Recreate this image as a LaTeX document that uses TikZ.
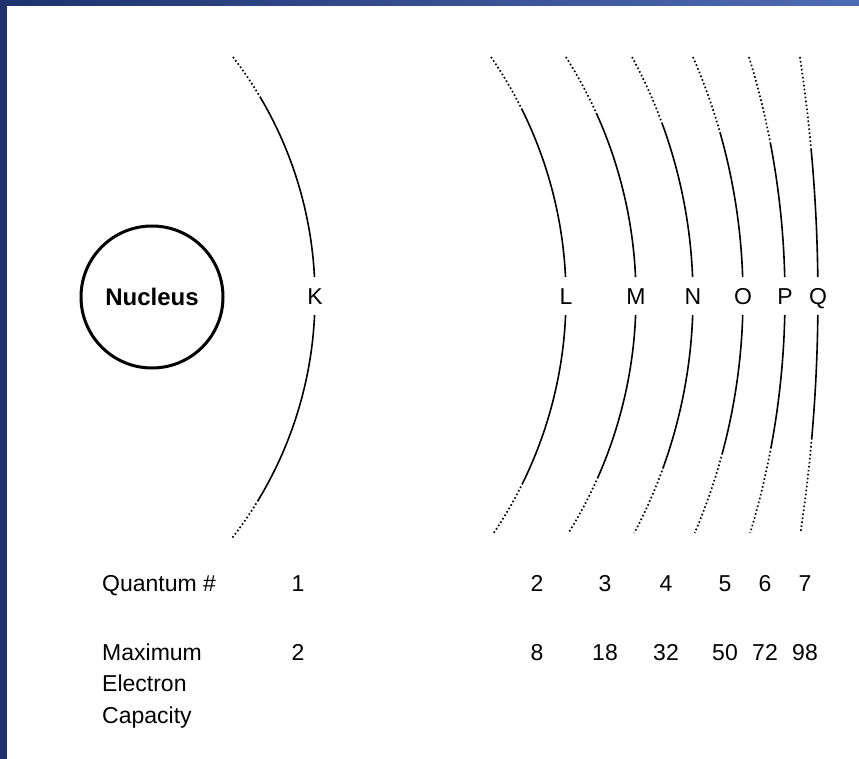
\documentclass[tikz,border=0pt]{standalone}
\usepackage{fontspec}
\setmainfont{Liberation Sans}
\definecolor{frameA}{RGB}{30,50,110}
\definecolor{frameB}{RGB}{78,108,180}

\begin{document}
\begin{tikzpicture}[x=1pt, y=-1pt,
  orbit/.style={line width=1.6pt},
  orbitdots/.style={line width=1.7pt, dash pattern=on 1.6pt off 2.4pt},
  txt/.style={inner sep=0pt, font=\fontsize{23}{31.5}\selectfont}]
  \useasboundingbox (0,0) rectangle (859,759);
  \fill[left color=frameA, right color=frameB] (0,0) rectangle (859,6);
  \fill[frameA] (0,0) rectangle (7,759);
  \node[draw, circle, line width=3pt, minimum size=142pt, inner sep=0pt,
        font=\fontsize{24}{28}\selectfont\bfseries] (nucleus) at (152,297) {Nucleus};
  \foreach \shell/\v/\R/\dt/\db/\de in {K/315/392/-200/203/241, L/566/421.5/-187/186/236,
      M/636/446/-184/180/236, N/693/503/-174/170/236, O/743/601/-164/156/236,
      P/785/818/-154/150/236, Q/818/1609/-147/141/236} {
    \pgfmathsetmacro\aa{asin(-240/\R)}
    \pgfmathsetmacro\ab{asin(\dt/\R)}
    \pgfmathsetmacro\ac{asin(-20/\R)}
    \pgfmathsetmacro\ad{asin(18/\R)}
    \pgfmathsetmacro\ae{asin(\db/\R)}
    \pgfmathsetmacro\af{asin(\de/\R)}
    \begin{scope}[shift={(\v-\R,297)}]
      \draw[orbitdots] (\aa:\R) arc[start angle=\aa, end angle=\ab, radius=\R];
      \draw[orbit] (\ab:\R) arc[start angle=\ab, end angle=\ac, radius=\R];
      \draw[orbit] (\ad:\R) arc[start angle=\ad, end angle=\ae, radius=\R];
      \draw[orbitdots] (\ae:\R) arc[start angle=\ae, end angle=\af, radius=\R];
    \end{scope}
    \node[txt, anchor=base] (\shell) at (\v,305) {\shell};
  }
  \node[txt, anchor=base west] (quantum) at (102,591) {Quantum \#};
  \node[txt, anchor=base west, align=left] (capacity) at (102,723) {Maximum\\Electron\\Capacity};
  \foreach \x/\n/\m [count=\i] in {298/1/2, 537/2/8, 605/3/18, 666/4/32, 725/5/50,
      765/6/72, 805/7/98} {
    \node[txt, anchor=base] (qn\i) at (\x,591) {\n};
    \node[txt, anchor=base] (cap\i) at (\x,660) {\m};
  }
\end{tikzpicture}
\end{document}
